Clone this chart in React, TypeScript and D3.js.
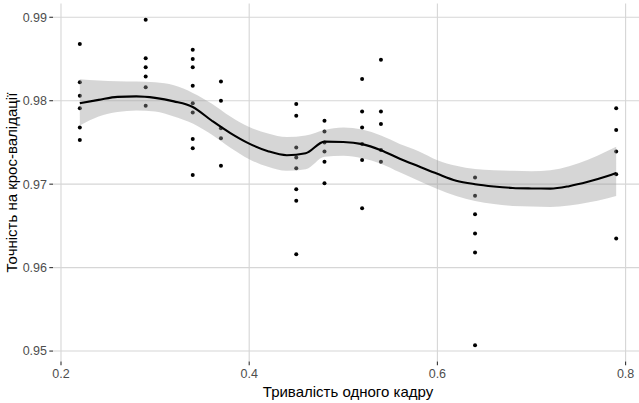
import React from "react";
import * as d3 from "d3";

// Observations: frame duration (s) vs cross-validation accuracy
const frameDuration = [0.22, 0.29, 0.34, 0.37, 0.45, 0.48, 0.52, 0.54, 0.64, 0.79];
const accuracyByDuration: number[][] = [
  [0.9868, 0.9822, 0.9806, 0.9791, 0.9768, 0.9753],
  [0.9897, 0.9851, 0.984, 0.9829, 0.9816, 0.9794],
  [0.9861, 0.985, 0.984, 0.9818, 0.9797, 0.9786, 0.9754, 0.9743, 0.9711],
  [0.9823, 0.98, 0.9767, 0.9755, 0.9722],
  [0.9796, 0.9782, 0.9744, 0.9732, 0.9719, 0.9694, 0.968, 0.9616],
  [0.9776, 0.9763, 0.975, 0.9739, 0.9727, 0.9701],
  [0.9826, 0.9787, 0.9768, 0.9748, 0.9729, 0.9671],
  [0.9849, 0.9787, 0.9772, 0.9741, 0.9727],
  [0.9708, 0.9686, 0.9664, 0.9641, 0.9618, 0.9507],
  [0.9791, 0.9765, 0.9739, 0.9712, 0.9635],
];

// Smoothed trend with its confidence band
const smoothX = [
  0.22, 0.24, 0.26, 0.28, 0.3, 0.32, 0.34, 0.36, 0.38, 0.4, 0.42, 0.44, 0.46, 0.48, 0.5,
  0.52, 0.54, 0.56, 0.58, 0.6, 0.62, 0.64, 0.66, 0.68, 0.7, 0.72, 0.74, 0.76, 0.78, 0.79,
];
const smoothFit = [
  0.97971, 0.9801, 0.98046, 0.98052, 0.98034, 0.97992, 0.97925, 0.97763, 0.97612, 0.97486,
  0.97395, 0.97347, 0.97371, 0.9751, 0.97506, 0.9748, 0.97407, 0.97305, 0.97214, 0.97124,
  0.97042, 0.97, 0.96973, 0.96955, 0.96949, 0.96947, 0.96976, 0.97028, 0.97094, 0.97133,
];
const smoothUpper = [
  0.98257, 0.98241, 0.98233, 0.98229, 0.9822, 0.98184, 0.98094, 0.97967, 0.97811, 0.97684,
  0.97606, 0.97564, 0.97582, 0.97648, 0.97678, 0.97654, 0.97582, 0.97482, 0.97395, 0.97287,
  0.9722, 0.97181, 0.97166, 0.9716, 0.97154, 0.97166, 0.97214, 0.97293, 0.97395, 0.97449,
];
const smoothLower = [
  0.97702, 0.97811, 0.97865, 0.97883, 0.97871, 0.97811, 0.97726, 0.97594, 0.97437, 0.97299,
  0.97208, 0.9716, 0.97178, 0.97329, 0.97341, 0.97311, 0.97245, 0.97142, 0.9704, 0.96943,
  0.96859, 0.96799, 0.96763, 0.96739, 0.96733, 0.96727, 0.96745, 0.96781, 0.96829, 0.96859,
];

const xTicks = [0.2, 0.4, 0.6, 0.8];
const yTicks = [0.95, 0.96, 0.97, 0.98, 0.99];
const xTitle = "Тривалість одного кадру";
const yTitle = "Точність на крос-валідації";

const W = 639;
const H = 403;
const FONT = "'Liberation Sans', Arial, sans-serif";

export default function App() {
  const points = frameDuration.flatMap((xv, i) =>
    accuracyByDuration[i].map((yv) => ({ x: xv, y: yv }))
  );
  const allY = points.map((p) => p.y);
  const xMin = d3.min(frameDuration)!;
  const xMax = d3.max(frameDuration)!;
  const yMin = d3.min(allY)!;
  const yMax = d3.max(allY)!;
  const xPad = (xMax - xMin) * 0.05;
  const yPad = (yMax - yMin) * 0.05;

  const panelLeft = 53;
  const panelTop = 3.5;
  const panelBottom = 361.5;
  const panelRight = 643;

  const x = d3.scaleLinear().domain([xMin - xPad, xMax + xPad]).range([panelLeft, panelRight]);
  const y = d3.scaleLinear().domain([yMin - yPad, yMax + yPad]).range([panelBottom, panelTop]);

  const band = smoothX.map((sx, i) => ({ x: sx, lo: smoothLower[i], hi: smoothUpper[i], fit: smoothFit[i] }));
  const area = d3
    .area<(typeof band)[number]>()
    .x((d) => x(d.x))
    .y0((d) => y(d.lo))
    .y1((d) => y(d.hi))
    .curve(d3.curveMonotoneX);
  const line = d3
    .line<(typeof band)[number]>()
    .x((d) => x(d.x))
    .y((d) => y(d.fit))
    .curve(d3.curveMonotoneX);

  const gridColor = "#d6d6d6";

  return (
    <svg
      width={W}
      height={H}
      style={{ position: "absolute", left: 0, top: 0, background: "#fff" }}
      fontFamily={FONT}
    >
      <rect x={0} y={0} width={W} height={H} fill="#fff" />
      {/* grid */}
      {yTicks.map((t) => (
        <line key={"gy" + t} x1={panelLeft} x2={panelRight} y1={y(t)} y2={y(t)} stroke={gridColor} strokeWidth={1.1} />
      ))}
      {xTicks.map((t) => (
        <line key={"gx" + t} x1={x(t)} x2={x(t)} y1={panelTop} y2={panelBottom} stroke={gridColor} strokeWidth={1.1} />
      ))}
      {/* axis ticks and labels */}
      {yTicks.map((t) => (
        <g key={"ty" + t}>
          <line x1={panelLeft - 3.7} x2={panelLeft} y1={y(t)} y2={y(t)} stroke="#333" strokeWidth={1.1} />
          <text x={panelLeft - 6} y={y(t)} dy="0.35em" textAnchor="end" fontSize={12.5} fill="#4d4d4d">
            {d3.format(".2f")(t)}
          </text>
        </g>
      ))}
      {xTicks.map((t) => (
        <g key={"tx" + t}>
          <line x1={x(t)} x2={x(t)} y1={panelBottom} y2={panelBottom + 3.7} stroke="#333" strokeWidth={1.1} />
          <text x={x(t)} y={panelBottom + 16} textAnchor="middle" fontSize={12.5} fill="#4d4d4d">
            {d3.format(".1f")(t)}
          </text>
        </g>
      ))}
      {/* points */}
      {points.map((p, i) => (
        <circle key={i} cx={x(p.x)} cy={y(p.y)} r={2} fill="#000" />
      ))}
      {/* smooth band and line */}
      <path d={area(band)!} fill="#999999" fillOpacity={0.4} />
      <path d={line(band)!} fill="none" stroke="#000" strokeWidth={2.1} />
      {/* titles */}
      <text x={348} y={396.5} textAnchor="middle" fontSize={15} fill="#000">
        {xTitle}
      </text>
      <text
        transform={`translate(16.5, ${(panelTop + panelBottom) / 2}) rotate(-90)`}
        textAnchor="middle"
        fontSize={15}
        fill="#000"
      >
        {yTitle}
      </text>
    </svg>
  );
}
